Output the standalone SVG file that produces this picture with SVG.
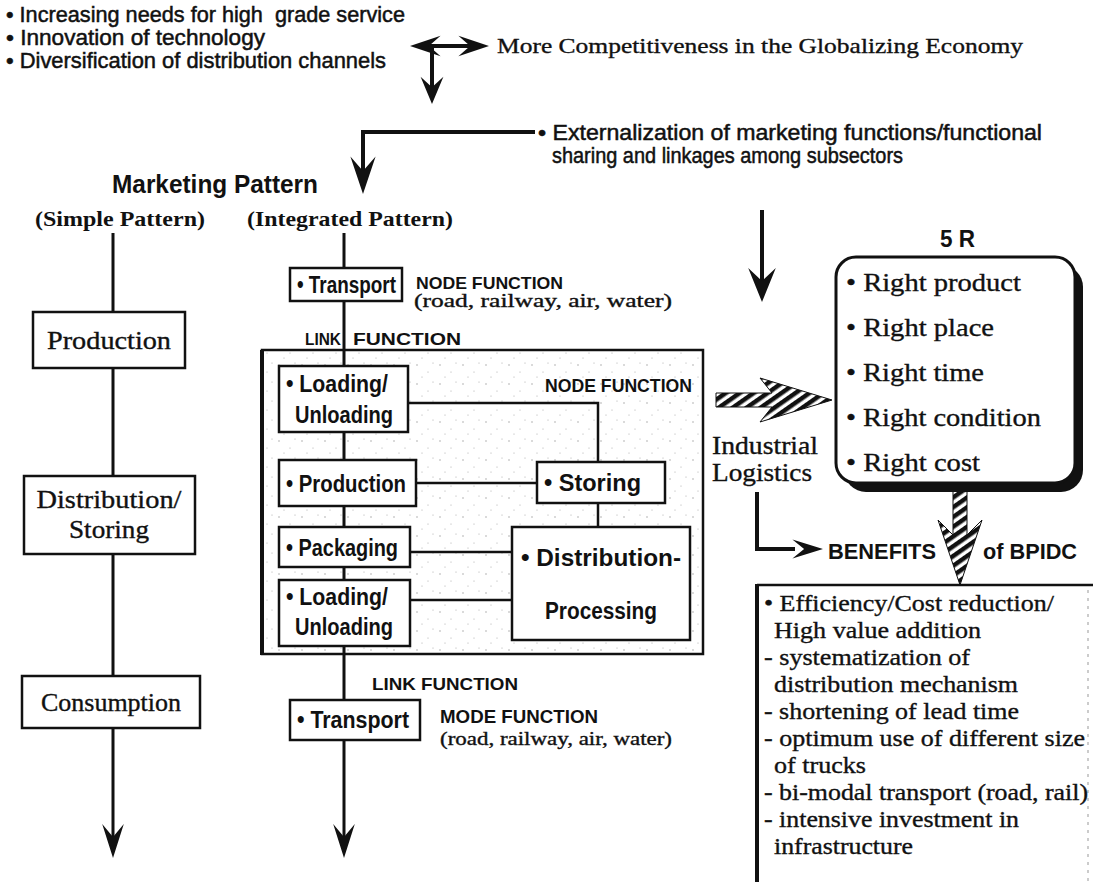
<svg xmlns="http://www.w3.org/2000/svg" width="1095" height="882" viewBox="0 0 1095 882">
<defs>
<style>
.hs{font-family:"Liberation Sans",Arial,sans-serif;font-size:22px;fill:#111;stroke:#111;stroke-width:0.5}
.hb{font-family:"Liberation Sans",Arial,sans-serif;font-weight:bold;fill:#111}
.sr{font-family:"Liberation Serif","Times New Roman",serif;fill:#111;stroke:#111;stroke-width:0.35}
.srb{font-family:"Liberation Serif","Times New Roman",serif;font-weight:bold;fill:#111}
.box{fill:#fff;stroke:#111;stroke-width:2.5}
.ln{stroke:#111;stroke-width:3;fill:none}
.thin{stroke:#111;stroke-width:2.5;fill:none}
</style>
<path id="vh" d="M0,0 L-12,-34 L0,-21 L12,-34 Z" fill="#111"/>
<pattern id="hatch" width="8" height="8" patternUnits="userSpaceOnUse" patternTransform="rotate(55)">
<rect width="8" height="8" fill="#fff"/>
<rect width="4.5" height="8" fill="#111"/>
</pattern>
<pattern id="speck" width="23" height="19" patternUnits="userSpaceOnUse">
<rect width="23" height="19" fill="#fff"/>
<circle cx="3" cy="4" r="0.7" fill="#999"/>
<circle cx="14" cy="11" r="0.6" fill="#aaa"/>
<circle cx="19" cy="2" r="0.5" fill="#999"/>
<circle cx="8" cy="16" r="0.6" fill="#aaa"/>
</pattern>
</defs>

<g id="drivers">
<text class="hs" x="6" y="22" textLength="399" lengthAdjust="spacingAndGlyphs" xml:space="preserve">• Increasing needs for high  grade service</text>
<text class="hs" x="6" y="45" textLength="259" lengthAdjust="spacingAndGlyphs">• Innovation of technology</text>
<text class="hs" x="6" y="68" textLength="380" lengthAdjust="spacingAndGlyphs">• Diversification of distribution channels</text>
</g>
<g id="competitiveness">
<text class="sr" x="497" y="53" font-size="22" textLength="526" lengthAdjust="spacingAndGlyphs">More Competitiveness in the Globalizing Economy</text>
</g>
<g id="externalization">
<text class="hs" x="538" y="140" textLength="504" lengthAdjust="spacingAndGlyphs">• Externalization of marketing functions/functional</text>
<text class="hs" x="552" y="163" textLength="351" lengthAdjust="spacingAndGlyphs">sharing and linkages among subsectors</text>
</g>
<g id="headings">
<text class="hb" x="112" y="193" font-size="25" textLength="206" lengthAdjust="spacingAndGlyphs">Marketing Pattern</text>
<text class="srb" x="35" y="226" font-size="22" textLength="170" lengthAdjust="spacingAndGlyphs">(Simple Pattern)</text>
<text class="srb" x="247" y="226" font-size="22" textLength="206" lengthAdjust="spacingAndGlyphs">(Integrated Pattern)</text>
</g>

<g id="node-function-area">
<rect x="262" y="350" width="441" height="304" fill="url(#speck)" stroke="#111" stroke-width="2.5"/>
<line x1="262" y1="350" x2="262" y2="655" stroke="#111" stroke-width="4"/>
<text class="hb" x="545" y="392" font-size="19" textLength="147" lengthAdjust="spacingAndGlyphs">NODE FUNCTION</text>
</g>

<g id="connectors">
<line x1="428" y1="46" x2="472" y2="46" stroke="#111" stroke-width="4"/>
<use href="#vh" transform="translate(410,46) rotate(90) scale(0.85,0.9)"/>
<use href="#vh" transform="translate(489,46) rotate(-90) scale(0.85,0.9)"/>
<line x1="432" y1="46" x2="432" y2="90" stroke="#111" stroke-width="4"/>
<use href="#vh" transform="translate(432,104) scale(0.95,0.8)"/>
<polyline points="535,132 363,132 363,178" fill="none" stroke="#111" stroke-width="4"/>
<use href="#vh" transform="translate(363,194) scale(1.05,1.1)"/>
<line class="ln" x1="113" y1="233" x2="113" y2="843"/>
<use href="#vh" transform="translate(113,858) scale(0.9,1)"/>
<line class="ln" x1="344" y1="233" x2="344" y2="843"/>
<use href="#vh" transform="translate(344,858) scale(0.9,1)"/>
<polyline class="thin" points="408,403 598,403 598,462"/>
<line class="thin" x1="416" y1="483" x2="537" y2="483"/>
<line class="thin" x1="598" y1="503" x2="598" y2="527"/>
<line class="thin" x1="410" y1="552" x2="512" y2="552"/>
<line class="thin" x1="410" y1="600" x2="512" y2="600"/>
<line x1="762" y1="210" x2="762" y2="285" stroke="#111" stroke-width="4"/>
<use href="#vh" transform="translate(762,302) scale(1.15,1)"/>
<path d="M716,393 H772 L760,378 L832,400 L760,422 L772,407 H716 Z" fill="url(#hatch)" stroke="#111" stroke-width="1"/>
<polyline points="757,492 757,549 795,549" fill="none" stroke="#111" stroke-width="4"/>
<use href="#vh" transform="translate(823,549) rotate(-90) scale(0.8,0.9)"/>
<path d="M953,490 H967 V535 L982,520 L960,585 L938,520 L953,535 Z" fill="url(#hatch)" stroke="#111" stroke-width="1"/>
</g>

<g id="simple-production">
<rect class="box" x="33" y="312" width="152" height="56"/>
<text class="sr" x="109" y="349" font-size="25" text-anchor="middle" textLength="124" lengthAdjust="spacingAndGlyphs">Production</text>
</g>
<g id="simple-distribution">
<rect class="box" x="24" y="476" width="171" height="78"/>
<text class="sr" x="109" y="508" font-size="25" text-anchor="middle" textLength="145" lengthAdjust="spacingAndGlyphs">Distribution/</text>
<text class="sr" x="109" y="538" font-size="25" text-anchor="middle" textLength="80" lengthAdjust="spacingAndGlyphs">Storing</text>
</g>
<g id="simple-consumption">
<rect class="box" x="22" y="676" width="178" height="52"/>
<text class="sr" x="111" y="711" font-size="25" text-anchor="middle" textLength="140" lengthAdjust="spacingAndGlyphs">Consumption</text>
</g>

<g id="transport-top">
<rect class="box" x="290" y="268" width="112" height="33"/>
<text class="hb" x="297" y="293" font-size="23" textLength="99" lengthAdjust="spacingAndGlyphs">• Transport</text>
<text class="hb" x="416" y="289" font-size="17" textLength="147" lengthAdjust="spacingAndGlyphs">NODE FUNCTION</text>
<text class="sr" x="414" y="307" font-size="18" textLength="258" lengthAdjust="spacingAndGlyphs">(road, railway, air, water)</text>
</g>
<g id="link-label-top">
<text class="hb" x="305" y="345" font-size="17" textLength="36" lengthAdjust="spacingAndGlyphs">LINK</text>
<text class="hb" x="353" y="345" font-size="17" textLength="108" lengthAdjust="spacingAndGlyphs">FUNCTION</text>
</g>

<g id="loading-1">
<rect class="box" x="279" y="366" width="129" height="66"/>
<text class="hb" x="286" y="392" font-size="23" textLength="102" lengthAdjust="spacingAndGlyphs">• Loading/</text>
<text class="hb" x="295" y="423" font-size="23" textLength="98" lengthAdjust="spacingAndGlyphs">Unloading</text>
</g>
<g id="production">
<rect class="box" x="279" y="460" width="137" height="46"/>
<text class="hb" x="286" y="492" font-size="23" textLength="120" lengthAdjust="spacingAndGlyphs">• Production</text>
</g>
<g id="storing">
<rect class="box" x="537" y="462" width="128" height="41"/>
<text class="hb" x="544" y="491" font-size="23" textLength="97" lengthAdjust="spacingAndGlyphs">• Storing</text>
</g>
<g id="packaging">
<rect class="box" x="279" y="527" width="131" height="40"/>
<text class="hb" x="286" y="556" font-size="23" textLength="112" lengthAdjust="spacingAndGlyphs">• Packaging</text>
</g>
<g id="distribution-processing">
<rect class="box" x="512" y="527" width="178" height="113"/>
<text class="hb" x="521" y="566" font-size="23" textLength="160" lengthAdjust="spacingAndGlyphs">• Distribution-</text>
<text class="hb" x="601" y="619" font-size="23" text-anchor="middle" textLength="112" lengthAdjust="spacingAndGlyphs">Processing</text>
</g>
<g id="loading-2">
<rect class="box" x="279" y="580" width="131" height="66"/>
<text class="hb" x="286" y="605" font-size="23" textLength="102" lengthAdjust="spacingAndGlyphs">• Loading/</text>
<text class="hb" x="295" y="635" font-size="23" textLength="98" lengthAdjust="spacingAndGlyphs">Unloading</text>
</g>

<g id="link-label-bottom">
<text class="hb" x="372" y="690" font-size="17" textLength="146" lengthAdjust="spacingAndGlyphs">LINK FUNCTION</text>
</g>
<g id="transport-bottom">
<rect class="box" x="290" y="700" width="130" height="40"/>
<text class="hb" x="297" y="728" font-size="23" textLength="112" lengthAdjust="spacingAndGlyphs">• Transport</text>
<text class="hb" x="440" y="723" font-size="18" textLength="158" lengthAdjust="spacingAndGlyphs">MODE FUNCTION</text>
<text class="sr" x="440" y="745" font-size="18" textLength="232" lengthAdjust="spacingAndGlyphs">(road, railway, air, water)</text>
</g>

<g id="industrial-logistics">
<text class="sr" x="712" y="454" font-size="25" textLength="106" lengthAdjust="spacingAndGlyphs">Industrial</text>
<text class="sr" x="712" y="481" font-size="25" textLength="100" lengthAdjust="spacingAndGlyphs">Logistics</text>
</g>

<g id="five-r">
<text class="hb" x="940" y="247" font-size="23" textLength="35" lengthAdjust="spacingAndGlyphs">5 R</text>
<rect x="844" y="265" width="239" height="227" rx="22" fill="#111"/>
<rect x="836" y="257" width="239" height="226" rx="20" fill="#fff" stroke="#111" stroke-width="3"/>
<text class="sr" x="846" y="291" font-size="26" textLength="175" lengthAdjust="spacingAndGlyphs">• Right product</text>
<text class="sr" x="846" y="336" font-size="26" textLength="148" lengthAdjust="spacingAndGlyphs">• Right place</text>
<text class="sr" x="846" y="381" font-size="26" textLength="138" lengthAdjust="spacingAndGlyphs">• Right time</text>
<text class="sr" x="846" y="426" font-size="26" textLength="195" lengthAdjust="spacingAndGlyphs">• Right condition</text>
<text class="sr" x="846" y="471" font-size="26" textLength="134" lengthAdjust="spacingAndGlyphs">• Right cost</text>
</g>

<g id="benefits-title">
<text class="hb" x="828" y="559" font-size="22" textLength="108" lengthAdjust="spacingAndGlyphs">BENEFITS</text>
<text class="hb" x="983" y="559" font-size="22" textLength="94" lengthAdjust="spacingAndGlyphs">of BPIDC</text>
</g>

<g id="benefits">
<line x1="757" y1="585" x2="1093" y2="585" stroke="#111" stroke-width="2.5"/>
<line x1="757" y1="584" x2="757" y2="882" stroke="#111" stroke-width="4"/>
<line x1="1088" y1="590" x2="1088" y2="882" stroke="#999" stroke-width="1" stroke-dasharray="3,5"/>
<text class="sr" x="764" y="611" font-size="23" textLength="290" lengthAdjust="spacingAndGlyphs">• Efficiency/Cost reduction/</text>
<text class="sr" x="774" y="638" font-size="23" textLength="207" lengthAdjust="spacingAndGlyphs">High value addition</text>
<text class="sr" x="764" y="665" font-size="23" textLength="206" lengthAdjust="spacingAndGlyphs">- systematization of</text>
<text class="sr" x="774" y="692" font-size="23" textLength="244" lengthAdjust="spacingAndGlyphs">distribution mechanism</text>
<text class="sr" x="764" y="719" font-size="23" textLength="255" lengthAdjust="spacingAndGlyphs">- shortening of lead time</text>
<text class="sr" x="764" y="746" font-size="23" textLength="321" lengthAdjust="spacingAndGlyphs">- optimum use of different size</text>
<text class="sr" x="774" y="773" font-size="23" textLength="92" lengthAdjust="spacingAndGlyphs">of trucks</text>
<text class="sr" x="764" y="800" font-size="23" textLength="324" lengthAdjust="spacingAndGlyphs">- bi-modal transport (road, rail)</text>
<text class="sr" x="764" y="827" font-size="23" textLength="255" lengthAdjust="spacingAndGlyphs">- intensive investment in</text>
<text class="sr" x="774" y="854" font-size="23" textLength="139" lengthAdjust="spacingAndGlyphs">infrastructure</text>
</g>
</svg>
